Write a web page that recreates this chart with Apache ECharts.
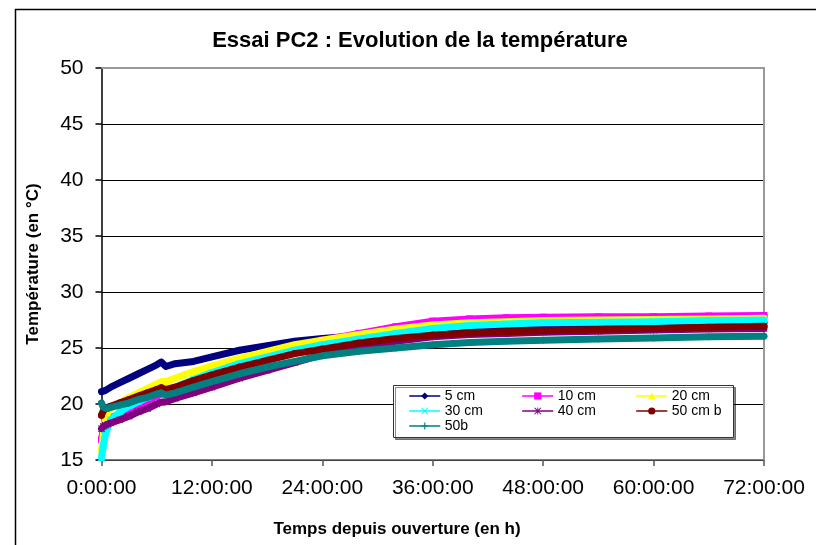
<!DOCTYPE html>
<html><head><meta charset="utf-8">
<script src="https://cdn.jsdelivr.net/npm/echarts@6/dist/echarts.min.js"></script>
<style>html,body{margin:0;padding:0;background:#fff}#c{width:816px;height:545px}</style>
</head><body><div id="c"></div>
<script>
// Time since opening (hours)
const hours = [0,0.2,0.4,0.7,1,2,3,4,5,6,6.5,7,8,10,12,15,18,21,24,28,32,36,40,44,48,54,60,66,72];
// Temperatures (°C)
const t5cm  = [21.1,21.15,21.2,21.35,21.5,21.9,22.3,22.7,23.1,23.5,23.75,23.35,23.6,23.8,24.2,24.8,25.2,25.6,25.85,26.1,26.4,26.6,26.8,26.9,27.0,27.1,27.15,27.2,27.25];
const t10cm = [16.8,17.8,18.4,18.6,18.8,19.1,19.5,19.9,20.3,20.7,20.9,21.1,21.4,22.1,22.7,23.6,24.4,25.1,25.7,26.3,26.9,27.4,27.6,27.7,27.75,27.78,27.8,27.85,27.9];
const t20cm = [15.9,17.3,18.6,19.3,19.6,20.1,20.6,21.0,21.4,21.8,22.0,22.0,22.3,22.9,23.4,24.1,24.7,25.3,25.7,26.2,26.7,27.05,27.25,27.35,27.45,27.5,27.55,27.6,27.65];
const t30cm = [15.2,16.3,17.2,18.0,18.6,19.3,19.8,20.2,20.6,21.0,21.15,21.2,21.5,22.2,22.8,23.6,24.2,24.8,25.3,25.8,26.3,26.75,27.0,27.15,27.25,27.3,27.35,27.45,27.5];
const t40cm = [17.8,18.0,18.1,18.2,18.3,18.6,18.9,19.3,19.6,20.0,20.15,20.2,20.5,21.0,21.5,22.3,23.0,23.7,24.4,25.0,25.6,26.0,26.2,26.3,26.4,26.5,26.6,26.7,26.75];
const t50cmb = [19.0,19.4,19.6,19.7,19.8,20.1,20.4,20.7,21.0,21.3,21.45,21.3,21.5,22.1,22.6,23.3,23.9,24.5,24.9,25.45,25.85,26.15,26.35,26.45,26.55,26.65,26.75,26.85,26.95];
const t50b  = [20.1,19.7,19.6,19.6,19.7,19.9,20.1,20.4,20.6,20.9,21.0,20.8,21.0,21.5,22.0,22.7,23.3,23.8,24.3,24.7,25.0,25.3,25.5,25.6,25.7,25.8,25.9,26.0,26.05];
const seriesNames = ['5 cm','10 cm','20 cm','30 cm','40 cm','50 cm b','50b'];
const xTicks = [0,12,24,36,48,60,72];

const FONT = 'Liberation Sans, Arial, sans-serif';
const X_PATH = 'path://M1,0 L5,4 L9,0 L10,1 L6,5 L10,9 L9,10 L5,6 L1,10 L0,9 L4,5 L0,1 Z';
const PLUS_PATH = 'path://M4.2,0 H5.8 V4.2 H10 V5.8 H5.8 V10 H4.2 V5.8 H0 V4.2 H4.2 Z';
const STAR_PATH = 'path://M4.4,0 H5.6 V10 H4.4 Z M1,0 L5,4 L9,0 L10,1 L6,5 L10,9 L9,10 L5,6 L1,10 L0,9 L4,5 L0,1 Z';

const defs = [
  {name: seriesNames[0], data: t5cm,  color: '#000080', symbol: 'diamond'},
  {name: seriesNames[1], data: t10cm, color: '#FF00FF', symbol: 'rect'},
  {name: seriesNames[2], data: t20cm, color: '#FFFF00', symbol: 'triangle'},
  {name: seriesNames[3], data: t30cm, color: '#00FFFF', symbol: X_PATH},
  {name: seriesNames[4], data: t40cm, color: '#800080', symbol: STAR_PATH},
  {name: seriesNames[5], data: t50cmb, color: '#800000', symbol: 'circle'},
  {name: seriesNames[6], data: t50b,  color: '#008080', symbol: PLUS_PATH}
];

const series = defs.map((d, i) => ({
  name: d.name,
  type: 'line',
  data: hours.map((h, k) => [h, d.data[k]]),
  symbol: d.symbol,
  symbolSize: 7,
  showSymbol: true,
  color: d.color,
  lineStyle: {color: d.color, width: 7, join: 'round', cap: 'round'},
  itemStyle: {color: d.color},
  z: 2 + i * 0.01,
  emphasis: {disabled: true}
}));

const legendBase = {
  orient: 'vertical',
  itemWidth: 30,
  itemHeight: 9,
  itemGap: 1,
  selectedMode: false,
  textStyle: {fontFamily: FONT, fontSize: 14, color: '#000', lineHeight: 14},
  lineStyle: {width: 1.5},
  padding: 0,
  z: 6
};

const chart = echarts.init(document.getElementById('c'), null, {renderer: 'canvas'});
chart.setOption({
  animation: false,
  backgroundColor: '#fff',
  title: [
    {text: 'Essai PC2 : Evolution de la température', left: 420, top: 30, textAlign: 'center', padding: 0,
     textStyle: {fontFamily: FONT, fontWeight: 'bold', fontSize: 22, color: '#000'}},
    {text: 'Temps depuis ouverture (en h)', left: 397, top: 521, textAlign: 'center', padding: 0,
     textStyle: {fontFamily: FONT, fontWeight: 'bold', fontSize: 17, color: '#000'}}
  ],
  grid: {left: 101.5, right: 52, top: 68, bottom: 85, containLabel: false},
  xAxis: {
    type: 'value', min: 0, max: 72, interval: 12,
    axisLine: {show: true, lineStyle: {color: '#555', width: 1.5}},
    axisTick: {show: true, length: 6, lineStyle: {color: '#555', width: 1.5}},
    axisLabel: {margin: 18, fontFamily: FONT, fontSize: 21, color: '#000',
      formatter: v => (xTicks.indexOf(v) >= 0 ? v + ':00:00' : '')},
    splitLine: {show: false}
  },
  yAxis: {
    type: 'value', min: 15, max: 50, interval: 5,
    name: 'Température (en °C)', nameLocation: 'middle', nameGap: 60,
    nameTextStyle: {fontFamily: FONT, fontWeight: 'bold', fontSize: 17, color: '#000'},
    axisLine: {show: true, lineStyle: {color: '#000', width: 1.5}},
    axisTick: {show: true, length: 6, lineStyle: {color: '#000', width: 1.5}},
    axisLabel: {margin: 18, fontFamily: FONT, fontSize: 21, color: '#000'},
    splitLine: {show: true, lineStyle: {color: '#000', width: 1.2}}
  },
  legend: [
    Object.assign({}, legendBase, {data: ['5 cm', '30 cm', '50b'], left: 409, top: 389}),
    Object.assign({}, legendBase, {data: ['10 cm', '40 cm'], left: 522, top: 389}),
    Object.assign({}, legendBase, {data: ['20 cm', '50 cm b'], left: 636, top: 389})
  ],
  graphic: [
    {type: 'rect', silent: true, z: 0, shape: {x: 15.5, y: 9.5, width: 900, height: 600},
     style: {fill: 'none', stroke: '#000', lineWidth: 1.5}},
    {type: 'polyline', silent: true, z: 1, shape: {points: [[101.5, 68], [764, 68], [764, 460]]},
     style: {fill: null, stroke: '#999', lineWidth: 2}},
    {type: 'rect', silent: true, z: 5, shape: {x: 393.5, y: 385.5, width: 340, height: 52},
     style: {fill: '#fff', stroke: '#333', lineWidth: 1, shadowColor: 'rgba(0,0,0,0.45)', shadowOffsetX: 2, shadowOffsetY: 2, shadowBlur: 0}}
  ],
  series: series
});
</script></body></html>
